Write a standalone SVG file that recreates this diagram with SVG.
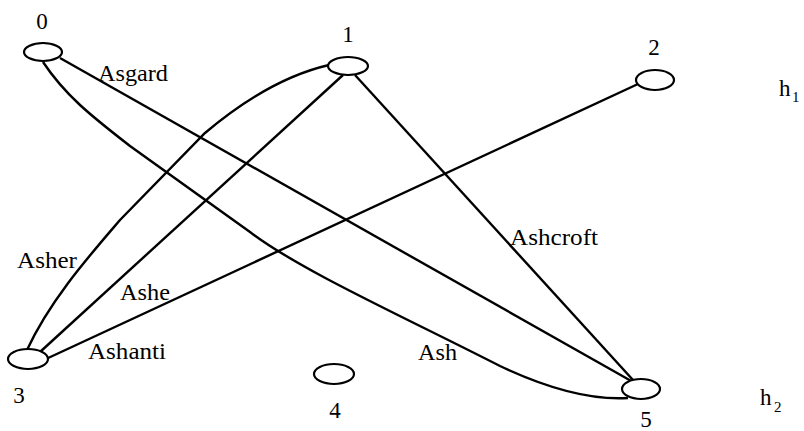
<svg xmlns="http://www.w3.org/2000/svg" width="804" height="431" viewBox="0 0 804 431">
<style>
.n{fill:#fff;stroke:#000;stroke-width:2.2}
.e{fill:none;stroke:#000;stroke-width:2.4}
text{font-family:"Liberation Serif","Times New Roman",Times,serif;fill:#000}
.t{font-size:23px}
.s{font-size:15px}
</style>
<rect width="804" height="431" fill="#fff"/>
<g id="edges">
<path class="e" d="M60 58 L633 382"/>
<path class="e" d="M43 62 C65 95 90 115 130 146 L250 232 C300 270 400 315 500 366 C555 392 595 400 628 398"/>
<path class="e" d="M329 65 C290 74 250 95 205 133 L120 220 C90 255 50 300 27 350"/>
<path class="e" d="M343 75 L40 352"/>
<path class="e" d="M355 75 L633 380"/>
<path class="e" d="M46 359 L638 84"/>
</g>
<g id="edge-labels">
<text class="t" x="98" y="81" textLength="70" lengthAdjust="spacingAndGlyphs">Asgard</text>
<text class="t" x="17" y="268" textLength="60" lengthAdjust="spacingAndGlyphs">Asher</text>
<text class="t" x="120" y="300" textLength="50" lengthAdjust="spacingAndGlyphs">Ashe</text>
<text class="t" x="88" y="359" textLength="78" lengthAdjust="spacingAndGlyphs">Ashanti</text>
<text class="t" x="510" y="245" textLength="88" lengthAdjust="spacingAndGlyphs">Ashcroft</text>
<text class="t" x="418" y="360" textLength="39" lengthAdjust="spacingAndGlyphs">Ash</text>
</g>
<g id="node0"><ellipse class="n" cx="43" cy="52" rx="19" ry="9"/><text class="t" x="42" y="29" text-anchor="middle">0</text></g>
<g id="node1"><ellipse class="n" cx="348" cy="66" rx="20" ry="9"/><text class="t" x="348" y="42" text-anchor="middle">1</text></g>
<g id="node2"><ellipse class="n" cx="655" cy="80" rx="19" ry="10"/><text class="t" x="654" y="55" text-anchor="middle">2</text></g>
<g id="node3"><ellipse class="n" cx="28" cy="359" rx="20" ry="10"/><text class="t" x="19" y="403" text-anchor="middle">3</text></g>
<g id="node4"><ellipse class="n" cx="334" cy="374" rx="20" ry="10"/><text class="t" x="335" y="418" text-anchor="middle">4</text></g>
<g id="node5"><ellipse class="n" cx="641" cy="389" rx="19" ry="10"/><text class="t" x="646" y="427" text-anchor="middle">5</text></g>
<g id="h1"><text class="t" x="779" y="96">h</text><text class="s" x="792" y="102">1</text></g>
<g id="h2"><text class="t" x="760" y="405">h</text><text class="s" x="774" y="412">2</text></g>
</svg>
